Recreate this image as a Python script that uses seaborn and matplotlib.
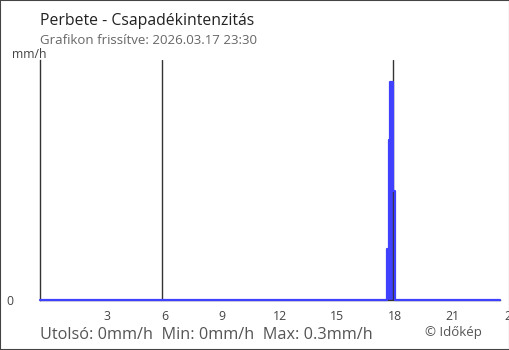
import matplotlib
matplotlib.use("Agg")
import matplotlib.pyplot as plt
import seaborn as sns
import pandas as pd
from matplotlib.patches import Rectangle

# ---- data ----
title = "Perbete - Csapadékintenzitás"
subtitle = "Grafikon frissítve: 2026.03.17 23:30"
unit = "mm/h"
x_ticks = [3, 6, 9, 12, 15, 18, 21]
x_tick_labels = ["3", "6", "9", "12", "15", "18", "21"]
last_tick_label = "24"
y_ticks = [0]
y_tick_labels = ["0"]
# hours relative to midnight (window 23:30 previous day -> 23:30)
rain_hours = [-0.5, 17.63, 17.70, 17.76, 17.92, 18.01, 23.5]
rain_values = [0.0, 0.07, 0.22, 0.30, 0.15, 0.0, 0.0]
sunrise = 5.87
sunset = 17.92
summary = "Utolsó: 0mm/h  Min: 0mm/h  Max: 0.3mm/h"
credit = "© Időkép"

# ---- style ----
sns.set_style("white")
plt.rcParams["font.family"] = ["Open Sans", "DejaVu Sans"]
blue = "#4040ff"
dark = "#333333"

W, H = 510, 350
fig = plt.figure(figsize=(W / 100, H / 100), dpi=100)
ax = fig.add_axes([40 / W, 50 / H, 460 / W, 240 / H])

df = pd.DataFrame({"hour": rain_hours, "rain": rain_values})
ax.fill_between(df["hour"], df["rain"], step="post", color=blue, lw=0)
sns.lineplot(data=df, x="hour", y="rain", drawstyle="steps-post", color=blue,
             lw=1.6, ax=ax, clip_on=False, zorder=5)

ax.axvline(sunrise, color=dark, lw=1, zorder=3)
ax.axvline(sunset, color=dark, lw=1, zorder=3)

ax.set_xlim(rain_hours[0], rain_hours[-1])
ax.set_ylim(0, 0.33)
ax.set_xlabel("")
ax.set_ylabel("")
ax.set_xticks(x_ticks)
ax.set_xticklabels(x_tick_labels)
ax.set_yticks(y_ticks)
ax.set_yticklabels(y_tick_labels)

for s in ["top", "right"]:
    ax.spines[s].set_visible(False)
ax.spines["left"].set_color(dark)
ax.spines["left"].set_linewidth(1)
ax.spines["bottom"].set_color(dark)
ax.spines["bottom"].set_linewidth(1)

ax.tick_params(axis="x", direction="inout", length=8, width=1, color=dark,
               labelsize=8.8, labelcolor="#444444", pad=3)
ax.tick_params(axis="y", direction="out", length=4.3, width=1, color=dark,
               labelsize=8.8, labelcolor="#444444", pad=15)

fig.text(511 / W, 1 - 320 / H, last_tick_label, ha="center", va="baseline",
         fontsize=8.8, color="#444444")

fig.text(40 / W, 1 - 25 / H, title, ha="left", va="baseline", fontsize=11.3,
         color="#222222")
fig.text(40 / W, 1 - 44 / H, subtitle, ha="left", va="baseline", fontsize=9.5,
         color="#666666")
fig.text(12 / W, 1 - 58.5 / H, unit, ha="left", va="baseline", fontsize=8.8,
         color="#444444")
fig.text(40 / W, 1 - 339 / H, summary, ha="left", va="baseline", fontsize=11.7,
         color="#555555")
fig.text(425 / W, 1 - 336 / H, credit, ha="left", va="baseline", fontsize=9.5,
         color="#555555")

fig.patches.append(Rectangle((0, 0), 1, 1, transform=fig.transFigure,
                             fill=False, edgecolor="#444444", lw=1.5))

fig.savefig("out.png", dpi=100)
